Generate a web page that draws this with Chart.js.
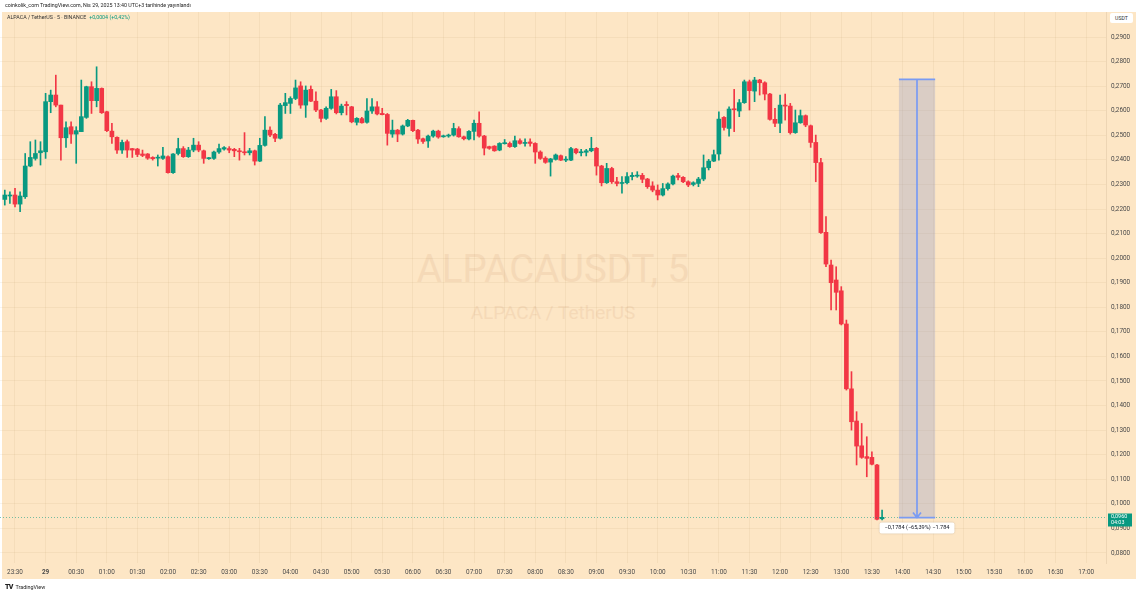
<!DOCTYPE html>
<html>
<head>
<meta charset="utf-8">
<title>ALPACAUSDT 5</title>
<script src="https://cdn.jsdelivr.net/npm/chart.js@4.4.1/dist/chart.umd.min.js"></script>
<style>
  body { margin: 0; background: #fff; font-family: Roboto, "Noto Sans", sans-serif; }
  #wrap { position: relative; width: 1140px; height: 593px; overflow: hidden; background: #fff; }
  #panel { position: absolute; left: 2px; top: 12px; width: 1134px; height: 567px; background: #fde6c5; }
  .wm { position: absolute; left: 0; width: 1106px; text-align: center; color: #f5d9b7; white-space: nowrap; }
  #wm1 { top: 246px; font-size: 38.5px; line-height: 46px; }
  #wm2 { top: 301px; font-size: 19px; line-height: 24px; }
  #chart { position: absolute; left: 0; top: 0; }
  .txt { position: absolute; white-space: nowrap; color: #222; z-index: 2; }
  #head { left: 5px; top: 2px; font-size: 5.3px; }
  #legend { left: 7px; top: 14px; font-size: 5.3px; color: #333; }
  #legend span { color: #089981; margin-left: 3px; }
  #usdt { left: 1110px; top: 13px; width: 23px; height: 10px; background: #fff; border-radius: 2px;
          font-size: 5.2px; line-height: 10px; text-align: center; color: #333; }
  #tvlogo { left: 5px; top: 583px; font-size: 5.4px; color: #222; }
  #tvlogo b { font-size: 7px; font-weight: 900; letter-spacing: -0.8px; margin-right: 3px; }
</style>
</head>
<body>
<div id="wrap">
  <div id="panel"></div>
  <div class="wm" id="wm1">ALPACAUSDT, 5</div>
  <div class="wm" id="wm2">ALPACA / TetherUS</div>
  <canvas id="chart" width="1140" height="593"></canvas>
  <div class="txt" id="head">coinkolik_com TradingView.com, Nis 29, 2025 13:40 UTC+3 tarihinde yayınlandı</div>
  <div class="txt" id="legend">ALPACA / TetherUS · 5 · BINANCE<span>+0,0004 (+0,42%)</span></div>
  <div class="txt" id="usdt">USDT</div>
  <div class="txt" id="tvlogo"><b>TV</b>TradingView</div>
</div>
<script>
// 5 dakikalik mumlar, 23:20'den 13:40'a kadar (index 0 = 23:30)
const firstIndex = -2;
const opens = [
  0.2239, 0.2253, 0.2257, 0.2220, 0.2250, 0.2375, 0.2406, 0.2429, 0.2433, 0.2637,
  0.2664, 0.2623, 0.2490, 0.2535, 0.2505, 0.2515, 0.2573, 0.2698, 0.2641, 0.2691,
  0.2596, 0.2517, 0.2492, 0.2440, 0.2474, 0.2446, 0.2444, 0.2424, 0.2424, 0.2410,
  0.2407, 0.2406, 0.2413, 0.2348, 0.2426, 0.2446, 0.2413, 0.2440, 0.2460, 0.2437,
  0.2405, 0.2406, 0.2432, 0.2444, 0.2446, 0.2443, 0.2437, 0.2433, 0.2429, 0.2437,
  0.2395, 0.2459, 0.2521, 0.2504, 0.2488, 0.2621, 0.2630, 0.2650, 0.2701, 0.2623,
  0.2687, 0.2639, 0.2603, 0.2569, 0.2610, 0.2657, 0.2592, 0.2626, 0.2616, 0.2553,
  0.2568, 0.2553, 0.2599, 0.2616, 0.2589, 0.2585, 0.2505, 0.2521, 0.2505, 0.2538,
  0.2561, 0.2521, 0.2486, 0.2477, 0.2497, 0.2517, 0.2494, 0.2497, 0.2501, 0.2527,
  0.2494, 0.2485, 0.2516, 0.2549, 0.2497, 0.2454, 0.2456, 0.2440, 0.2466, 0.2467,
  0.2454, 0.2478, 0.2467, 0.2473, 0.2467, 0.2432, 0.2407, 0.2391, 0.2402, 0.2417,
  0.2399, 0.2399, 0.2444, 0.2429, 0.2431, 0.2437, 0.2447, 0.2375, 0.2307, 0.2365,
  0.2311, 0.2304, 0.2307, 0.2332, 0.2334, 0.2337, 0.2322, 0.2294, 0.2277, 0.2257,
  0.2283, 0.2302, 0.2336, 0.2329, 0.2311, 0.2300, 0.2304, 0.2322, 0.2368, 0.2395,
  0.2424, 0.2573, 0.2528, 0.2607, 0.2599, 0.2633, 0.2718, 0.2680, 0.2725, 0.2714,
  0.2668, 0.2565, 0.2549, 0.2623, 0.2619, 0.2511, 0.2551, 0.2580, 0.2539, 0.2471,
  0.2389, 0.2105, 0.1972, 0.1911, 0.1867, 0.1732, 0.1468, 0.1337, 0.1236, 0.1192,
  0.1189, 0.1158, 0.0939
];
const highs = [
  0.2277, 0.2270, 0.2284, 0.2270, 0.2426, 0.2474, 0.2481, 0.2474, 0.2671, 0.2684,
  0.2745, 0.2623, 0.2555, 0.2555, 0.2535, 0.2725, 0.2700, 0.2718, 0.2779, 0.2693,
  0.2598, 0.2549, 0.2494, 0.2481, 0.2481, 0.2447, 0.2447, 0.2440, 0.2426, 0.2413,
  0.2420, 0.2451, 0.2416, 0.2426, 0.2488, 0.2454, 0.2451, 0.2488, 0.2474, 0.2440,
  0.2410, 0.2436, 0.2464, 0.2454, 0.2454, 0.2447, 0.2447, 0.2511, 0.2447, 0.2440,
  0.2488, 0.2576, 0.2535, 0.2508, 0.2630, 0.2671, 0.2657, 0.2725, 0.2718, 0.2701,
  0.2701, 0.2677, 0.2606, 0.2616, 0.2687, 0.2682, 0.2627, 0.2637, 0.2618, 0.2572,
  0.2573, 0.2650, 0.2650, 0.2637, 0.2610, 0.2589, 0.2562, 0.2524, 0.2542, 0.2565,
  0.2562, 0.2524, 0.2489, 0.2501, 0.2521, 0.2521, 0.2501, 0.2505, 0.2549, 0.2535,
  0.2497, 0.2519, 0.2562, 0.2596, 0.2500, 0.2456, 0.2458, 0.2470, 0.2483, 0.2473,
  0.2497, 0.2486, 0.2486, 0.2486, 0.2470, 0.2437, 0.2413, 0.2406, 0.2424, 0.2420,
  0.2413, 0.2451, 0.2447, 0.2443, 0.2443, 0.2492, 0.2451, 0.2378, 0.2386, 0.2370,
  0.2329, 0.2332, 0.2348, 0.2348, 0.2352, 0.2345, 0.2325, 0.2311, 0.2298, 0.2304,
  0.2307, 0.2338, 0.2345, 0.2332, 0.2315, 0.2311, 0.2329, 0.2420, 0.2402, 0.2440,
  0.2596, 0.2576, 0.2616, 0.2687, 0.2646, 0.2725, 0.2725, 0.2736, 0.2728, 0.2718,
  0.2671, 0.2610, 0.2664, 0.2668, 0.2630, 0.2603, 0.2603, 0.2583, 0.2542, 0.2501,
  0.2406, 0.2169, 0.1992, 0.1965, 0.1884, 0.1748, 0.1538, 0.1375, 0.1327, 0.1273,
  0.1212, 0.1161, 0.0974
];
const lows = [
  0.2216, 0.2223, 0.2209, 0.2189, 0.2243, 0.2372, 0.2399, 0.2379, 0.2406, 0.2592,
  0.2616, 0.2399, 0.2451, 0.2467, 0.2386, 0.2515, 0.2569, 0.2589, 0.2616, 0.2589,
  0.2515, 0.2467, 0.2426, 0.2426, 0.2410, 0.2410, 0.2413, 0.2413, 0.2402, 0.2399,
  0.2375, 0.2402, 0.2346, 0.2345, 0.2420, 0.2410, 0.2410, 0.2433, 0.2433, 0.2386,
  0.2402, 0.2402, 0.2426, 0.2440, 0.2429, 0.2413, 0.2399, 0.2420, 0.2420, 0.2379,
  0.2393, 0.2456, 0.2494, 0.2474, 0.2485, 0.2589, 0.2589, 0.2645, 0.2610, 0.2573,
  0.2637, 0.2596, 0.2555, 0.2565, 0.2606, 0.2587, 0.2583, 0.2583, 0.2551, 0.2542,
  0.2549, 0.2549, 0.2589, 0.2583, 0.2583, 0.2460, 0.2492, 0.2474, 0.2501, 0.2535,
  0.2515, 0.2467, 0.2467, 0.2451, 0.2492, 0.2488, 0.2492, 0.2492, 0.2497, 0.2492,
  0.2481, 0.2481, 0.2481, 0.2492, 0.2420, 0.2443, 0.2435, 0.2437, 0.2464, 0.2451,
  0.2451, 0.2464, 0.2456, 0.2456, 0.2386, 0.2402, 0.2386, 0.2334, 0.2399, 0.2397,
  0.2393, 0.2397, 0.2424, 0.2416, 0.2416, 0.2433, 0.2338, 0.2294, 0.2304, 0.2304,
  0.2294, 0.2264, 0.2302, 0.2318, 0.2329, 0.2307, 0.2284, 0.2270, 0.2237, 0.2253,
  0.2277, 0.2298, 0.2318, 0.2307, 0.2291, 0.2294, 0.2291, 0.2315, 0.2359, 0.2393,
  0.2399, 0.2521, 0.2497, 0.2515, 0.2576, 0.2630, 0.2603, 0.2637, 0.2664, 0.2644,
  0.2562, 0.2535, 0.2511, 0.2562, 0.2505, 0.2508, 0.2549, 0.2535, 0.2451, 0.2311,
  0.2101, 0.1965, 0.1789, 0.1789, 0.1728, 0.1463, 0.1300, 0.1158, 0.1185, 0.1110,
  0.1158, 0.0934, 0.0934
];
const closes = [
  0.2257, 0.2257, 0.2220, 0.2253, 0.2375, 0.2410, 0.2426, 0.2437, 0.2637, 0.2664,
  0.2623, 0.2490, 0.2531, 0.2505, 0.2519, 0.2576, 0.2698, 0.2641, 0.2691, 0.2592,
  0.2519, 0.2494, 0.2440, 0.2471, 0.2440, 0.2440, 0.2422, 0.2418, 0.2407, 0.2405,
  0.2410, 0.2416, 0.2348, 0.2424, 0.2446, 0.2413, 0.2440, 0.2460, 0.2440, 0.2406,
  0.2407, 0.2432, 0.2446, 0.2450, 0.2440, 0.2437, 0.2433, 0.2429, 0.2437, 0.2395,
  0.2459, 0.2521, 0.2501, 0.2488, 0.2623, 0.2633, 0.2650, 0.2693, 0.2623, 0.2684,
  0.2639, 0.2603, 0.2569, 0.2610, 0.2657, 0.2592, 0.2619, 0.2621, 0.2555, 0.2569,
  0.2551, 0.2599, 0.2616, 0.2587, 0.2584, 0.2508, 0.2521, 0.2505, 0.2538, 0.2561,
  0.2519, 0.2485, 0.2475, 0.2497, 0.2517, 0.2493, 0.2498, 0.2501, 0.2528, 0.2494,
  0.2486, 0.2516, 0.2549, 0.2497, 0.2448, 0.2447, 0.2437, 0.2467, 0.2470, 0.2454,
  0.2478, 0.2467, 0.2470, 0.2467, 0.2432, 0.2406, 0.2390, 0.2404, 0.2420, 0.2399,
  0.2402, 0.2446, 0.2429, 0.2433, 0.2437, 0.2447, 0.2375, 0.2307, 0.2365, 0.2311,
  0.2304, 0.2307, 0.2332, 0.2337, 0.2337, 0.2321, 0.2291, 0.2277, 0.2257, 0.2283,
  0.2302, 0.2334, 0.2329, 0.2311, 0.2298, 0.2307, 0.2322, 0.2368, 0.2395, 0.2421,
  0.2566, 0.2532, 0.2607, 0.2604, 0.2633, 0.2718, 0.2682, 0.2725, 0.2714, 0.2668,
  0.2565, 0.2549, 0.2623, 0.2619, 0.2511, 0.2551, 0.2580, 0.2542, 0.2471, 0.2389,
  0.2104, 0.1976, 0.1900, 0.1861, 0.1732, 0.1468, 0.1334, 0.1235, 0.1189, 0.1185,
  0.1161, 0.0937, 0.0945
];

const timeLabels = ["23:30", "29", "00:30", "01:00", "01:30", "02:00", "02:30", "03:00", "03:30",
  "04:00", "04:30", "05:00", "05:30", "06:00", "06:30", "07:00", "07:30", "08:00", "08:30",
  "09:00", "09:30", "10:00", "10:30", "11:00", "11:30", "12:00", "12:30", "13:00", "13:30",
  "14:00", "14:30", "15:00", "15:30", "16:00", "16:30", "17:00"];
const priceTicks = [0.08, 0.09, 0.10, 0.11, 0.12, 0.13, 0.14, 0.15, 0.16, 0.17, 0.18,
  0.19, 0.20, 0.21, 0.22, 0.23, 0.24, 0.25, 0.26, 0.27, 0.28, 0.29];

// fiyat araligi olcumu
const rangeX = [173.3, 180.4];
const rangeY = [0.2728, 0.0944];
const rangeLabel = "\u22120,1784 (\u221265,39%) \u22121.784";
const lastPriceLabel = "0,0960";
const countdownLabel = "04:03";

const upColor = "#089981";
const downColor = "#f23645";
const gridColor = "rgba(170,130,80,0.09)";

const bodyData = [];
const wickData = [];
const colors = [];
for (let i = 0; i < opens.length; i++) {
  const x = firstIndex + i;
  bodyData.push({ x: x, y: [opens[i], closes[i]] });
  wickData.push({ x: x, y: [lows[i], highs[i]] });
  colors.push(closes[i] >= opens[i] ? upColor : downColor);
}

const extras = {
  id: "extras",
  afterDatasetsDraw(chart) {
    const ctx = chart.ctx;
    const xs = chart.scales.x;
    const ys = chart.scales.y;
    const area = chart.chartArea;

    // son fiyat cizgisi
    const last = closes[closes.length - 1];
    const py = Math.round(ys.getPixelForValue(last)) + 0.5;
    ctx.save();
    ctx.strokeStyle = "rgba(8,153,129,0.55)";
    ctx.lineWidth = 1;
    ctx.setLineDash([1, 2]);
    ctx.beginPath();
    ctx.moveTo(area.left, py);
    ctx.lineTo(area.right, py);
    ctx.stroke();
    ctx.setLineDash([]);

    // olcum kutusu
    const x0 = xs.getPixelForValue(rangeX[0]);
    const x1 = xs.getPixelForValue(rangeX[1]);
    const y0 = ys.getPixelForValue(rangeY[0]);
    const y1 = ys.getPixelForValue(rangeY[1]);
    const xm = Math.round((x0 + x1) / 2);
    ctx.fillStyle = "rgba(140,150,200,0.3)";
    ctx.fillRect(x0, y0, x1 - x0, y1 - y0);
    ctx.strokeStyle = "#7a9bf2";
    ctx.lineWidth = 1.7;
    ctx.beginPath();
    ctx.moveTo(x0, y0);
    ctx.lineTo(x1, y0);
    ctx.moveTo(x0, y1);
    ctx.lineTo(x1, y1);
    ctx.moveTo(xm, y0);
    ctx.lineTo(xm, y1);
    ctx.moveTo(xm - 4, y1 - 5);
    ctx.lineTo(xm, y1);
    ctx.lineTo(xm + 4, y1 - 5);
    ctx.stroke();

    ctx.font = "5.6px Roboto, sans-serif";
    const tw = ctx.measureText(rangeLabel).width + 10;
    ctx.shadowColor = "rgba(0,0,0,0.18)";
    ctx.shadowBlur = 2;
    ctx.fillStyle = "#fff";
    ctx.beginPath();
    ctx.roundRect(xm - tw / 2, y1 + 5, tw, 11, 2);
    ctx.fill();
    ctx.shadowBlur = 0;
    ctx.shadowColor = "transparent";
    ctx.fillStyle = "#131722";
    ctx.textAlign = "center";
    ctx.textBaseline = "middle";
    ctx.fillText(rangeLabel, xm, y1 + 10.5);

    // sag eksen fiyat etiketi
    const bx = area.right + 2;
    ctx.fillStyle = upColor;
    ctx.fillRect(bx, py - 4, 24, 13);
    ctx.fillStyle = "#fff";
    ctx.font = "5.4px Roboto, sans-serif";
    ctx.textAlign = "left";
    ctx.fillText(lastPriceLabel, bx + 3, py - 0.5);
    ctx.fillText(countdownLabel, bx + 3, py + 5.5);
    ctx.restore();
  }
};

Chart.defaults.font.family = "Roboto, sans-serif";

new Chart(document.getElementById("chart"), {
  type: "bar",
  data: {
    datasets: [
      {
        label: "govde",
        data: bodyData,
        backgroundColor: colors,
        barThickness: 4,
        minBarLength: 1,
        grouped: false,
        order: 0
      },
      {
        label: "fitil",
        data: wickData,
        backgroundColor: colors,
        barThickness: 1,
        grouped: false,
        order: 1
      }
    ]
  },
  options: {
    responsive: false,
    devicePixelRatio: 1,
    animation: false,
    layout: { padding: { left: 0, right: 4, top: 12, bottom: 13 } },
    plugins: {
      legend: { display: false },
      tooltip: { enabled: false }
    },
    scales: {
      x: {
        type: "linear",
        min: -2.94,
        max: 213.9,
        offset: false,
        afterBuildTicks: (s) => {
          s.ticks = timeLabels.map((t, k) => ({ value: k * 6 }));
        },
        afterFit: (s) => { s.height = 17; },
        grid: { color: gridColor, drawTicks: false, offset: false },
        border: { display: false },
        ticks: {
          autoSkip: false,
          maxRotation: 0,
          padding: 6,
          color: "#4a4a4a",
          font: (c) => ({ size: 6.4, weight: c.tick && c.tick.value === 6 ? "bold" : "normal" }),
          callback: (v) => timeLabels[Math.round(v / 6)]
        }
      },
      y: {
        position: "right",
        min: 0.0759,
        max: 0.3002,
        afterBuildTicks: (s) => {
          s.ticks = priceTicks.map((v) => ({ value: v }));
        },
        afterFit: (s) => { s.width = 30; },
        grid: { color: gridColor, drawTicks: false },
        border: { color: "rgba(150,120,90,0.15)" },
        ticks: {
          padding: 5,
          color: "#4a4a4a",
          font: { size: 6.4 },
          callback: (v) => v.toFixed(4).replace(".", ",")
        }
      }
    }
  },
  plugins: [extras]
});
</script>
</body>
</html>
